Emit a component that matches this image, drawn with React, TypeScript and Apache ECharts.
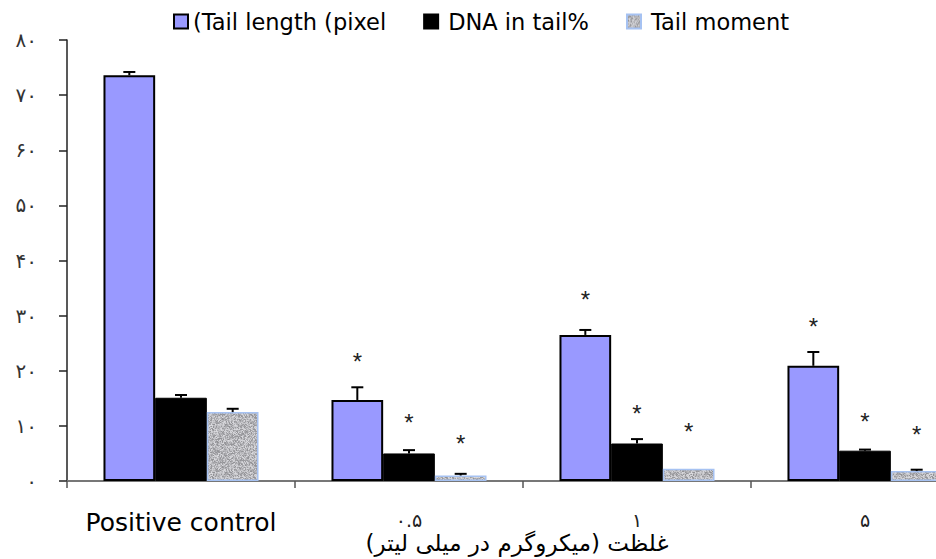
import React, { useEffect, useRef } from "react";
import * as echarts from "echarts";

// ---- data ----
const categories = ["Positive control", "۰.۵", "۱", "۵"];
const yTickLabels = ["۰", "۱۰", "۲۰", "۳۰", "۴۰", "۵۰", "۶۰", "۷۰", "۸۰"];
const seriesNames = ["(Tail length (pixel", "DNA in tail%", "Tail moment"];

const tailLength = [73.6, 14.7, 26.5, 20.9];
const tailLengthErr = [0.6, 2.3, 0.9, 2.5];
const tailLengthStar = [null, 22.5, 33.9, 28.9];

const dnaInTail = [15.1, 5.0, 6.8, 5.5];
const dnaInTailErr = [0.5, 0.6, 0.8, 0.2];
const dnaInTailStar = [null, 11.6, 13.2, 11.7];

const tailMoment = [12.5, 1.0, 2.2, 1.8];
const tailMomentErr = [0.6, 0.3, 0, 0.25];
const tailMomentStar = [null, 7.7, 9.9, 9.4];

const xAxisTitle = "غلظت (میکروگرم در میلی لیتر)\u200F";

function makeTexture(): HTMLCanvasElement {
  const c = document.createElement("canvas");
  c.width = 48;
  c.height = 48;
  const ctx = c.getContext("2d")!;
  const img = ctx.createImageData(48, 48);
  let s = 987654321;
  for (let i = 0; i < 48 * 48; i++) {
    s = (s * 1103515245 + 12345) & 0x7fffffff;
    const v = 145 + ((s >> 16) % 75);
    img.data[i * 4] = v;
    img.data[i * 4 + 1] = v;
    img.data[i * 4 + 2] = v + 4;
    img.data[i * 4 + 3] = 255;
  }
  ctx.putImageData(img, 0, 0);
  return c;
}

const GAP = 0.32;

export default function App() {
  const ref = useRef<HTMLDivElement>(null);
  useEffect(() => {
    if (!ref.current) return;
    const chart = echarts.init(ref.current, undefined, { renderer: "svg" });
    const texture = makeTexture();

    const errSeries = (
      vals: number[],
      errs: number[],
      stars: (number | null)[],
      slot: number
    ) => ({
      type: "custom",
      silent: true,
      z: 5,
      clip: false,
      data: vals.map((v, i) => [i, v, errs[i], stars[i] == null ? -1 : stars[i]]),
      renderItem: (params: any, api: any) => {
        const i = api.value(0);
        const v = api.value(1);
        const e = api.value(2);
        const st = api.value(3);
        const band = api.size([1, 0])[0];
        const bw = (band * (1 - GAP)) / 3;
        const base = api.coord([i, v]);
        const x = base[0] + (slot - 1) * bw;
        const children: any[] = [];
        if (e > 0) {
          const top = api.coord([i, v + e])[1];
          children.push({
            type: "line",
            shape: { x1: x, y1: base[1], x2: x, y2: top },
            style: { stroke: "#000", lineWidth: 2 },
          });
          children.push({
            type: "line",
            shape: { x1: x - 6, y1: top, x2: x + 6, y2: top },
            style: { stroke: "#000", lineWidth: 2 },
          });
        }
        if (st >= 0) {
          const sy = api.coord([i, st])[1];
          children.push({
            type: "text",
            x: x,
            y: sy + 5,
            style: {
              text: "*",
              fontSize: 24,
              fontFamily: "Liberation Sans",
              fill: "#222",
              align: "center",
              verticalAlign: "middle",
            },
          });
        }
        return { type: "group", children };
      },
    });

    chart.setOption({
      animation: false,
      backgroundColor: "#fff",
      legend: {
        data: [
          { name: seriesNames[0] },
          { name: seriesNames[1], textStyle: { padding: [0, 0, 0, 5] } },
          { name: seriesNames[2], textStyle: { padding: [0, 0, 0, 5] } },
        ],
        left: 173,
        top: 10,
        padding: 0,
        itemWidth: 14,
        itemHeight: 14,
        itemGap: 37,
        icon: "rect",
        selectedMode: false,
        textStyle: { fontFamily: "DejaVu Sans", fontSize: 22.5, color: "#000" },
      },
      graphic: [
        {
          type: "text",
          x: 517,
          y: 543,
          style: {
            text: xAxisTitle,
            fontFamily: "DejaVu Sans",
            fontSize: 23,
            fill: "#000",
            align: "center",
            verticalAlign: "middle",
          },
        },
      ],
      grid: {
        left: 67,
        width: 912,
        top: 40,
        height: 441,
        containLabel: false,
        outerBoundsMode: "none",
      },
      xAxis: {
        type: "category",
        data: categories,
        axisLine: { lineStyle: { color: "#777", width: 2 } },
        axisTick: { show: true, length: 7, lineStyle: { color: "#555", width: 1.5 } },
        axisLabel: {
          interval: 0,
          margin: 29,
          fontFamily: "DejaVu Sans",
          fontSize: 25,
          color: "#000",
          hideOverlap: false,
          formatter: (val: string) =>
            val === categories[0] ? "{en|" + val + "}" : "{fa|" + val + "}",
          rich: {
            en: { fontFamily: "DejaVu Sans", fontSize: 25, color: "#000" },
            fa: { fontFamily: "DejaVu Sans", fontSize: 19, color: "#222", padding: [0, 0, 2, 0] },
          },
        },
      },
      yAxis: {
        type: "value",
        min: 0,
        max: 80,
        interval: 10,
        splitLine: { show: false },
        axisLine: { show: true, lineStyle: { color: "#222", width: 1.5 } },
        axisTick: { show: true, length: 8, lineStyle: { color: "#222", width: 1.5 } },
        axisLabel: {
          margin: 30,
          fontFamily: "DejaVu Sans",
          fontSize: 20,
          color: "#333",
          formatter: (val: number) => yTickLabels[Math.round(val / 10)],
        },
      },
      series: [
        {
          name: seriesNames[0],
          type: "bar",
          data: tailLength,
          barCategoryGap: "32%",
          barGap: "0%",
          itemStyle: { color: "#9999ff", borderColor: "#000", borderWidth: 2 },
        },
        {
          name: seriesNames[1],
          type: "bar",
          data: dnaInTail,
          barGap: "0%",
          itemStyle: { color: "#000", borderColor: "#000", borderWidth: 1 },
        },
        {
          name: seriesNames[2],
          type: "bar",
          data: tailMoment,
          barGap: "0%",
          itemStyle: {
            color: { image: texture, repeat: "repeat" },
            borderColor: "#a6c2f2",
            borderWidth: 1.5,
          },
        },
        errSeries(tailLength, tailLengthErr, tailLengthStar, 0),
        errSeries(dnaInTail, dnaInTailErr, dnaInTailStar, 1),
        errSeries(tailMoment, tailMomentErr, tailMomentStar, 2),
      ],
    });
    return () => chart.dispose();
  }, []);
  return (
    <div
      ref={ref}
      style={{ position: "absolute", left: 0, top: 0, width: 936, height: 559, overflow: "hidden" }}
    />
  );
}
